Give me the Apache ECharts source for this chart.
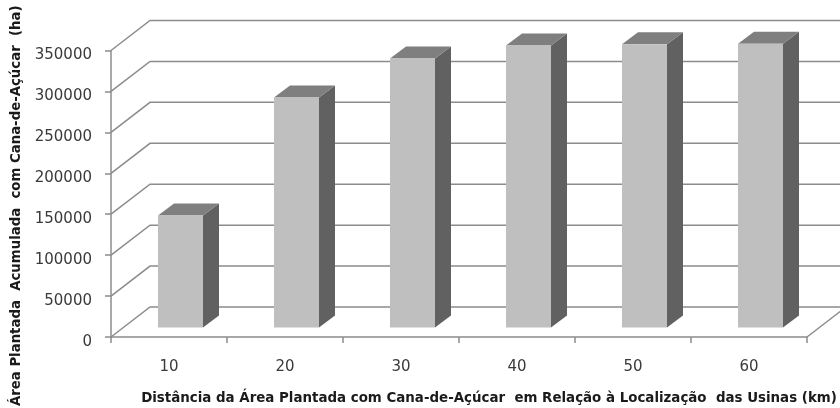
<!DOCTYPE html>
<html><head><meta charset="utf-8">
<style>html,body{margin:0;padding:0;background:#fff}#c{width:840px;height:408px}</style>
<script src="https://cdn.jsdelivr.net/npm/echarts@6/dist/echarts.min.js"></script>
</head><body><div id="c"></div>
<script>
const categories = ['10','20','30','40','50','60'];
const areaValues = [136800, 281000, 328600, 344500, 346000, 346500];
const gridTicks = [0,50000,100000,150000,200000,250000,300000,350000];
const xTitle = 'Distância da Área Plantada com Cana-de-Açúcar  em Relação à Localização  das Usinas (km)';
const yTitle = 'Área Plantada  Acumulada  com Cana-de-Açúcar  (ha)';

const WALL_DX = 39, WALL_DY = 30, BAR_DX = 11.5, BAR_DY = 9.5, SIDE_DX = 16, SIDE_DY = 12, BAR_W = 45;
const LINE = '#8c8c8c', TXT = '#3a3a3a';
const chart = echarts.init(document.getElementById('c'), null, {renderer:'canvas'});
chart.setOption({
  animation:false,
  backgroundColor:'#fff',
  grid:{left:111,right:33,top:50.5,bottom:71,containLabel:false,outerBoundsMode:'none'},
  xAxis:{type:'category',data:categories,
    axisLine:{lineStyle:{color:LINE,width:1.5}},
    axisTick:{show:true,length:6,lineStyle:{color:LINE,width:1.5}},
    axisLabel:{color:TXT,fontFamily:'DejaVu Sans',fontSize:15,margin:23},
    name:xTitle,nameLocation:'middle',nameGap:55,
    nameTextStyle:{color:'#1a1a1a',fontFamily:'DejaVu Sans',fontWeight:'bold',fontSize:13.4,padding:[0,0,0,60]}},
  yAxis:{type:'value',min:0,max:350000,interval:50000,
    axisLine:{show:true,lineStyle:{color:LINE,width:1.5}},
    axisTick:{show:true,length:6,lineStyle:{color:LINE,width:1.5}},
    splitLine:{show:false},
    axisLabel:{color:TXT,fontFamily:'DejaVu Sans',fontSize:15,margin:19,verticalAlign:'top',lineHeight:10,formatter:v=>String(v)},
    name:yTitle,nameLocation:'middle',nameGap:88,nameRotate:90,
    nameTextStyle:{color:'#1a1a1a',fontFamily:'DejaVu Sans',fontWeight:'bold',fontSize:13.3,padding:[0,24,0,0]}},
  series:[
    {type:'custom',clip:false,z:1,silent:true,
     data:gridTicks.map(t=>[0,t]),
     encode:{x:0,y:1},
     renderItem:(params,api)=>{
       const y=api.coord([0,api.value(1)])[1], cs=params.coordSys, x0=cs.x;
       return {type:'polyline',shape:{points:[[x0,y],[x0+WALL_DX,y-WALL_DY],[x0+cs.width+WALL_DX,y-WALL_DY]]},
         style:{stroke:LINE,lineWidth:1.5,fill:null}};
     }},
    {type:'custom',clip:false,z:1,silent:true,
     data:[[categories.length-1,0]],encode:{x:0,y:1},
     renderItem:(params,api)=>{
       const y=api.coord([0,0])[1], cs=params.coordSys, x1=cs.x+cs.width;
       return {type:'line',shape:{x1:x1,y1:y,x2:x1+WALL_DX,y2:y-WALL_DY},style:{stroke:LINE,lineWidth:1.5}};
     }},
    {type:'custom',clip:false,z:3,
     data:areaValues.map((v,i)=>[i,v]),encode:{x:0,y:1},
     renderItem:(params,api)=>{
       const top=api.coord([api.value(0),api.value(1)]), base=api.coord([api.value(0),0]);
       const l=top[0]-BAR_W/2+BAR_DX, r=l+BAR_W, t=top[1]-BAR_DY, b=base[1]-BAR_DY;
       return {type:'group',children:[
         {type:'polygon',shape:{points:[[r,t],[r+SIDE_DX,t-SIDE_DY],[r+SIDE_DX,b-SIDE_DY],[r,b]]},style:{fill:'#616161'}},
         {type:'polygon',shape:{points:[[l,t],[l+SIDE_DX,t-SIDE_DY],[r+SIDE_DX,t-SIDE_DY],[r,t]]},style:{fill:'#7f7f7f'}},
         {type:'rect',shape:{x:l,y:t,width:BAR_W,height:b-t},style:{fill:'#bfbfbf'}}
       ]};
     }}
  ]
});
</script></body></html>
